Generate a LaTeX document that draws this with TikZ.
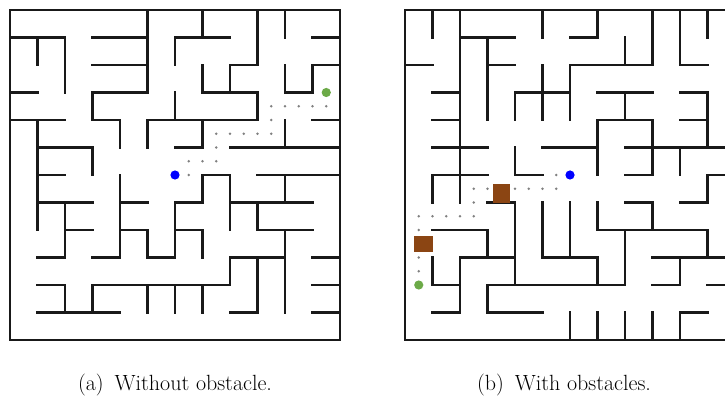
\documentclass[tikz,border=0pt]{standalone}
\usepackage{fontspec}
\definecolor{wallc}{RGB}{25,25,25}
\definecolor{pathc}{RGB}{128,128,128}
\definecolor{goalc}{RGB}{108,170,72}
\definecolor{startc}{RGB}{0,0,255}
\definecolor{boxc}{RGB}{139,69,19}
\tikzset{
  wall/.style={line width=2.2pt, draw=wallc, line cap=rect, line join=miter},
  pdot/.style={fill=pathc, draw=none},
  caption/.style={font=\fontsize{22}{26}\selectfont, inner sep=0pt, anchor=base}
}
\begin{document}
\begin{tikzpicture}[x=1pt,y=-1pt]
\useasboundingbox (0,0) rectangle (725,398);
\fill[white] (0,0) rectangle (725,398);
\clip (0,0) rectangle (725,398);

% ---------------- left maze ----------------
\begin{scope}[shift={(10pt,-10pt)}, x=27.5pt, y=-27.5pt]
\draw[wall] (0,0) rectangle (12,12);
\draw[wall] (5,0)--(5,3)--(3,3)--(3,4)--(4,4)--(4,5);
\draw[wall] (0,1)--(2,1)--(2,3);
\draw[wall] (1,1)--(1,2);
\draw[wall] (3,1)--(5,1);
\draw[wall] (3,2)--(5,2);
\draw[wall] (0,3)--(1,3);
\draw[wall] (0,4)--(2,4);
\draw[wall] (1,4)--(1,8);
\draw[wall] (1,5)--(3,5)--(3,6);
\draw[wall] (1,6)--(2,6);
\draw[wall] (4,6)--(4,9)--(3,9);
\draw[wall] (1,7)--(3,7);
\draw[wall] (2,7)--(2,9)--(1,9);
\draw[wall] (2,8)--(3,8);
\draw[wall] (4,7)--(5,7);
\draw[wall] (4,8)--(5,8)--(5,9)--(6,9)--(6,7)--(7,7)--(7,6)--(8,6)--(8,8);
\draw[wall] (6,8)--(7,8)--(7,9);
\draw[wall] (1,10)--(2,10)--(2,11);
\draw[wall] (1,11)--(4,11);
\draw[wall] (3,11)--(3,10)--(8,10)--(8,9)--(10,9);
\draw[wall] (5,10)--(5,11) (6,10)--(6,11) (7,10)--(7,11);
\draw[wall] (8,11)--(9,11)--(9,9);
\draw[wall] (10,8)--(10,11);
\draw[wall] (8,7)--(11,7);
\draw[wall] (9,7)--(9,8)--(11,8);
\draw[wall] (9,6)--(12,6) (10,6)--(10,7);
\draw[wall] (11,9)--(12,9) (11,10)--(12,10) (11,11)--(12,11);
\draw[wall] (5,5)--(5,4)--(9,4)--(9,3)--(7,3)--(7,2);
\draw[wall] (6,3)--(6,4);
\draw[wall] (8,3)--(8,2)--(9,2)--(9,0);
\draw[wall] (7,0)--(7,1) (6,2)--(6,1)--(8,1);
\draw[wall] (10,0)--(10,1) (11,1)--(12,1);
\draw[wall] (10,2)--(10,3)--(11,3)--(11,2)--(12,2);
\draw[wall] (11,4)--(12,4);
\draw[wall] (6,5)--(7,5)--(7,4);
\draw[wall] (8,5)--(12,5);
\draw[wall] (10,4)--(10,5);
% path
\foreach \p in {(6.5,6),(6.5,5.5),(7,5.5),(7.5,5.5),(7.5,5),(7.5,4.5),(8,4.5),(8.5,4.5),(9,4.5),(9.5,4.5),(9.5,4),(9.5,3.5),(10,3.5),(10.5,3.5),(11,3.5),(11.5,3.5)}
  \fill[pdot] \p circle[radius=1.4pt];
\fill[startc] (6,6) circle[radius=4.6pt];
\fill[goalc] (11.5,3) circle[radius=4.6pt];
\end{scope}

% ---------------- right maze ----------------
\begin{scope}[shift={(405pt,-10pt)}, x=27.5pt, y=-27.5pt]
\draw[wall] (0,0) rectangle (12,12);
\draw[wall] (1,0)--(1,1);
\draw[wall] (2,0)--(2,7);
\draw[wall] (2,1)--(4,1);
\draw[wall] (3,1)--(3,4);
\draw[wall] (3,2)--(4,2);
\draw[wall] (5,0)--(5,1);
\draw[wall] (0,2)--(1,2);
\draw[wall] (1,3)--(2,3);
\draw[wall] (5,2)--(5,4);
\draw[wall] (4,4)--(4,3)--(6,3);
\draw[wall] (6,4)--(6,2)--(9,2)--(9,0);
\draw[wall] (8,1)--(8,2);
\draw[wall] (1,4)--(2,4);
\draw[wall] (1,5)--(3,5);
\draw[wall] (4,5)--(4,6)--(5,6);
\draw[wall] (5,5)--(7,5);
\draw[wall] (1,7)--(1,6)--(3,6);
\draw[wall] (6,1)--(7,1)--(7,0);
\draw[wall] (10,0)--(10,2)--(11,2);
\draw[wall] (11,0)--(11,1);
\draw[wall] (7,3)--(9,3) (8,3)--(8,4);
\draw[wall] (7,6)--(7,4)--(9,4)--(9,6)--(8,6);
\draw[wall] (8,5)--(12,5);
\draw[wall] (10,3)--(11,3)--(11,5) (10,4)--(11,4);
\draw[wall] (10,5)--(10,6);
\draw[wall] (12,6)--(11,6)--(11,7)--(10,7);
\draw[wall] (3,7)--(4,7)--(4,10);
\draw[wall] (5,7)--(5,9)--(7,9)--(7,10);
\draw[wall] (1,8)--(3,8)--(3,9);
\draw[wall] (4,9)--(2,9)--(2,11)--(1,11);
\draw[wall] (1,9)--(1,10)--(2,10);
\draw[wall] (3,11)--(3,10)--(8,10)--(8,8);
\draw[wall] (3,11)--(5,11);
\draw[wall] (6,7)--(6,9);
\draw[wall] (7,7)--(7,8)--(11,8)--(11,9);
\draw[wall] (8,7)--(9,7)--(9,8);
\draw[wall] (9,9)--(12,9);
\draw[wall] (10,9)--(10,10)--(9,10);
\draw[wall] (11,10)--(12,10);
\draw[wall] (6,11)--(6,12) (7,11)--(7,12) (8,11)--(8,12) (9,11)--(9,12);
\draw[wall] (10,12)--(10,11)--(11,11);
% path
\foreach \p in {(5.5,6),(5.5,6.5),(5,6.5),(4.5,6.5),(4,6.5),(3.5,6.5),(3,6.5),(2.5,6.5),(2.5,7),(2.5,7.5),(2,7.5),(1.5,7.5),(1,7.5),(0.5,7.5),(0.5,8),(0.5,8.5),(0.5,9),(0.5,9.5)}
  \fill[pdot] \p circle[radius=1.4pt];
\fill[startc] (6,6) circle[radius=4.6pt];
\fill[goalc] (0.5,10) circle[radius=4.6pt];
\end{scope}

% obstacles (pixel coordinates)
\fill[boxc] (492.5,184.3) rectangle (510.3,203.3);
\fill[boxc] (414,235.5) rectangle (433.3,252.3);

% captions
\node[caption] (capa) at (175,390) {(a)\hspace{0.5em}Without obstacle.};
\node[caption] (capb) at (564,390) {(b)\hspace{0.5em}With obstacles.};
\end{tikzpicture}
\end{document}
